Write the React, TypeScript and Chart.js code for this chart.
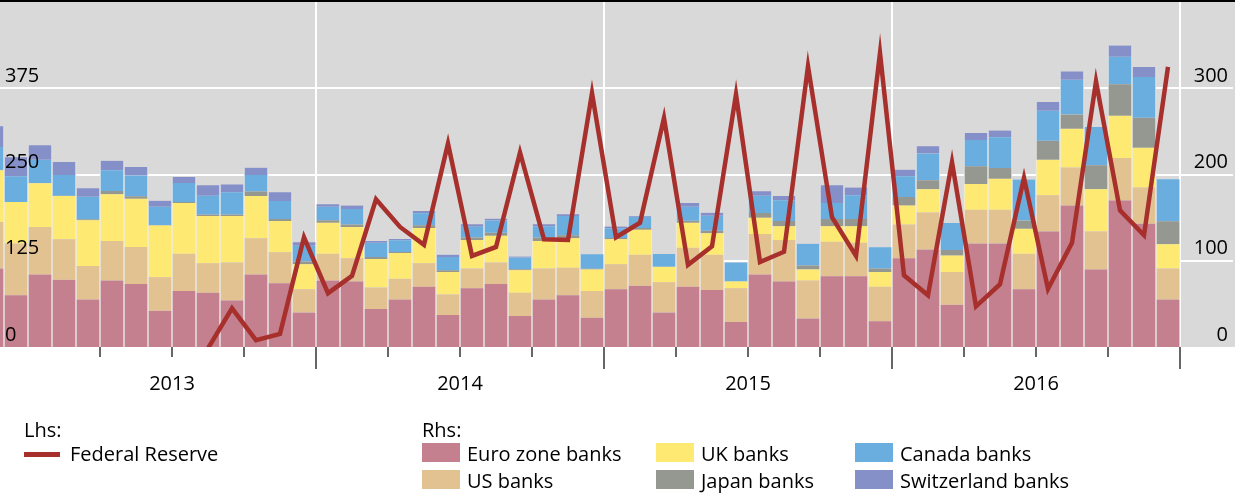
import React, { useEffect, useRef } from 'react';
import { Chart, registerables } from 'chart.js';

Chart.register(...registerables);

// ---------- DATA ----------
const months = [
  '2012-11', '2012-12',
  '2013-01', '2013-02', '2013-03', '2013-04', '2013-05', '2013-06', '2013-07', '2013-08', '2013-09', '2013-10', '2013-11', '2013-12',
  '2014-01', '2014-02', '2014-03', '2014-04', '2014-05', '2014-06', '2014-07', '2014-08', '2014-09', '2014-10', '2014-11', '2014-12',
  '2015-01', '2015-02', '2015-03', '2015-04', '2015-05', '2015-06', '2015-07', '2015-08', '2015-09', '2015-10', '2015-11', '2015-12',
  '2016-01', '2016-02', '2016-03', '2016-04', '2016-05', '2016-06', '2016-07', '2016-08', '2016-09', '2016-10', '2016-11', '2016-12',
];

const yearLabels = ['2013', '2014', '2015', '2016'];

// Lhs: Federal Reserve (line)
const federalReserve = [
  null, null,
  null, null, null, null, null, null, null, -2, 56, 10, 19, 159,
  78, 103, 214, 174, 148, 295, 132, 145, 282, 156, 155, 368,
  159, 180, 332, 119, 146, 366, 123, 138, 407, 188, 132, 426,
  104, 75, 268, 59, 91, 245, 84, 151, 385, 198, 162, 406,
];

// Rhs: stacked bars
const euroZoneBanks = [
  91, 60,
  84, 78, 55, 77, 73, 42, 65, 63, 54, 84, 74, 40,
  77, 76, 44, 55, 70, 37, 68, 73, 36, 55, 60, 34,
  67, 71, 40, 70, 66, 29, 84, 76, 33, 82, 82, 30,
  103, 113, 49, 120, 120, 67, 134, 164, 90, 170, 143, 55,
];
const usBanks = [
  54, 60,
  55, 47, 39, 46, 43, 39, 43, 34, 44, 42, 36, 27,
  31, 27, 25, 24, 27, 24, 23, 25, 27, 36, 32, 31,
  29, 36, 35, 45, 41, 39, 47, 48, 44, 40, 39, 40,
  39, 43, 38, 39, 39, 41, 42, 44, 44, 49, 42, 36,
];
const ukBanks = [
  60, 48,
  51, 50, 53, 54, 56, 60, 59, 55, 54, 49, 36, 29,
  36, 36, 33, 30, 41, 26, 33, 31, 26, 32, 34, 25,
  29, 29, 18, 29, 25, 8, 19, 16, 13, 18, 19, 17,
  22, 27, 19, 30, 36, 29, 41, 45, 49, 49, 46, 28,
];
const japanBanks = [
  0, 0,
  0, 0.5, 1.2, 3.9, 2.7, 0.5, 1.2, 1.5, 1.5, 5.4, 2.3, 3.5,
  3.1, 3.1, 2.3, 1.2, 3.1, 1.9, 3.1, 3.5, 1.2, 3.9, 3.5, 0.8,
  1.5, 1.9, 0, 2.3, 2.7, 0, 5.4, 6.2, 4.6, 8.5, 8.5, 3.9,
  10, 10.4, 6.6, 20.5, 12.4, 9.7, 22, 16.6, 27.8, 36.7, 34.8, 26.7,
];
const canadaBanks = [
  27, 30,
  27, 24, 26, 24, 24, 21, 22, 22, 26, 19, 21, 18,
  15.5, 18, 16.6, 13.5, 13.9, 15.5, 12.4, 14.3, 13.5, 13.1, 22.4, 16.6,
  11.2, 12.7, 14.7, 16.2, 17.4, 22, 20.1, 23.9, 25.1, 18.5, 27.4, 24.7,
  23.9, 30.9, 31.3, 30.5, 35.9, 47.5, 34.8, 40.2, 44.4, 31.7, 47.1, 48.7,
];
const switzerlandBanks = [
  24, 22,
  17, 15, 10, 11, 10, 7, 7, 12, 9, 8.5, 10, 4,
  3, 4, 2, 1.5, 2.7, 2.7, 2.7, 2, 1.2, 2.3, 2, 0,
  2, 1, 0, 4.6, 3.5, 0, 5, 5, 0, 20.5, 8.9, 0,
  7.7, 8.5, 0, 8.1, 7.7, 0, 10.4, 9.7, 0, 13.1, 11.6, 0,
];

const leftTicks = [0, 125, 250, 375];
const rightTicks = [0, 100, 200, 300];
const leftMax = 500;
const rightMax = 400;

// ---------- STYLE ----------
const FONT = "'Open Sans', 'DejaVu Sans', sans-serif";
const fedColor = '#a8302c';
const barSeries = [
  { label: 'Euro zone banks', data: euroZoneBanks, color: '#c4808f' },
  { label: 'US banks', data: usBanks, color: '#e2c291' },
  { label: 'UK banks', data: ukBanks, color: '#feea72' },
  { label: 'Japan banks', data: japanBanks, color: '#949890' },
  { label: 'Canada banks', data: canadaBanks, color: '#6aaee0' },
  { label: 'Switzerland banks', data: switzerlandBanks, color: '#8690c8' },
];

// month position: 0 = January 2013
const monthPos = months.map((m) => {
  const [y, mo] = m.split('-').map(Number);
  return (y - 2013) * 12 + (mo - 1);
});
const yearStart = (label: string) => (Number(label) - 2013) * 12 - 0.5;
const yearBounds = yearLabels.map((y) => yearStart(y) + 12);
const quarterBounds: number[] = [];
yearLabels.forEach((y) => {
  [3, 6, 9].forEach((q) => quarterBounds.push(yearStart(y) + q));
});
const midYear = yearLabels.map((y) => yearStart(y) + 6);
const allXTicks = [...quarterBounds, ...yearBounds].sort((a, b) => a - b);

const W = 1235;
const H = 494;

const noPadFit = (s: any) => {
  s.width = 0;
  s.paddingTop = 0;
  s.paddingBottom = 0;
};

export default function App() {
  const canvasRef = useRef<HTMLCanvasElement | null>(null);

  useEffect(() => {
    const canvas = canvasRef.current;
    if (!canvas) return;

    const bgPlugin = {
      id: 'bgPlugin',
      beforeDraw(chart: any) {
        const { ctx, chartArea } = chart;
        ctx.save();
        ctx.fillStyle = '#d9d9d9';
        ctx.fillRect(0, chartArea.top, chart.width, chartArea.bottom - chartArea.top);
        ctx.fillStyle = '#000';
        ctx.fillRect(0, 0, chart.width, chartArea.top);
        ctx.restore();
      },
      afterDraw(chart: any) {
        const { ctx, chartArea } = chart;
        const xs = chart.scales.x;
        ctx.save();
        ctx.strokeStyle = '#333';
        ctx.lineWidth = 1.5;
        quarterBounds.forEach((v) => {
          const px = xs.getPixelForValue(v);
          ctx.beginPath();
          ctx.moveTo(px, chartArea.bottom);
          ctx.lineTo(px, chartArea.bottom + 10);
          ctx.stroke();
        });
        ctx.restore();
      },
    };

    const labelTicks = (values: number[], extra: any) => ({
      mirror: true,
      autoSkip: false,
      z: 1,
      color: '#000',
      font: { family: FONT, size: 20 },
      callback: (v: any) => (values.includes(Number(v)) ? String(v) : ''),
      ...extra,
    });

    const chart = new Chart(canvas, {
      type: 'bar',
      data: {
        datasets: [
          {
            type: 'line',
            label: 'Federal Reserve',
            data: federalReserve.map((v, i) => ({ x: monthPos[i], y: v })) as any,
            yAxisID: 'y',
            xAxisID: 'x',
            borderColor: fedColor,
            backgroundColor: fedColor,
            borderWidth: 4.5,
            pointRadius: 0,
            tension: 0,
            spanGaps: false,
            borderJoinStyle: 'miter',
            order: 0,
          } as any,
          ...barSeries.map((s) => ({
            type: 'bar',
            label: s.label,
            data: s.data.map((v, i) => ({ x: monthPos[i], y: v })),
            yAxisID: 'y1',
            xAxisID: 'x',
            backgroundColor: s.color,
            borderColor: '#ececec',
            borderWidth: { left: 1, right: 1, top: 0, bottom: 0 },
            borderSkipped: false,
            barThickness: 24,
            stack: 'banks',
            order: 1,
          } as any)),
        ],
      },
      options: {
        animation: false,
        responsive: false,
        devicePixelRatio: 1,
        events: [],
        layout: { padding: { top: 2, left: 0, right: 2, bottom: 87 } },
        plugins: { legend: { display: false }, tooltip: { enabled: false } },
        scales: {
          x: {
            type: 'linear',
            min: -40 / 24,
            max: (1233 - 40) / 24,
            bounds: 'data',
            stacked: true,
            offset: false,
            afterBuildTicks: (s: any) => {
              s.ticks = allXTicks.map((v) => ({ value: v }));
            },
            afterFit: (s: any) => {
              s.height = 60;
              s.paddingLeft = 0;
              s.paddingRight = 0;
            },
            grid: {
              offset: false,
              drawOnChartArea: true,
              drawTicks: true,
              tickLength: 22,
              lineWidth: 2,
              tickWidth: 1.5,
              color: (c: any) => (c.tick && yearBounds.includes(c.tick.value) ? '#ffffff' : 'rgba(0,0,0,0)'),
              tickColor: (c: any) => (c.tick && yearBounds.includes(c.tick.value) ? '#333333' : 'rgba(0,0,0,0)'),
            },
            border: { display: false },
            ticks: {
              autoSkip: false,
              maxRotation: 0,
              minRotation: 0,
              padding: 3,
              color: '#000',
              font: { family: FONT, size: 20 },
              callback: (v: any) => {
                const k = midYear.indexOf(Number(v));
                return k >= 0 ? yearLabels[k] : '';
              },
            },
          },
          // left scale for the line + white horizontal gridlines (behind bars)
          y: {
            type: 'linear',
            position: 'left',
            min: 0,
            max: leftMax,
            bounds: 'data',
            afterBuildTicks: (s: any) => {
              s.ticks = [...leftTicks, leftMax].map((v) => ({ value: v }));
            },
            afterFit: noPadFit,
            grid: {
              drawTicks: false,
              lineWidth: 2,
              color: (c: any) => (c.tick && c.tick.value > 0 && c.tick.value < leftMax ? '#ffffff' : 'rgba(0,0,0,0)'),
            },
            border: { display: false },
            ticks: { display: false },
          },
          // left tick labels, drawn on top of the bars
          yL: {
            type: 'linear',
            position: 'left',
            min: 0,
            max: leftMax,
            bounds: 'data',
            afterBuildTicks: (s: any) => {
              s.ticks = [...leftTicks, leftMax].map((v) => ({ value: v }));
            },
            afterFit: noPadFit,
            grid: { display: false, drawTicks: false },
            border: { display: false },
            ticks: labelTicks(leftTicks, { padding: 5, labelOffset: -12 }),
          },
          y1: {
            type: 'linear',
            position: 'right',
            min: 0,
            max: rightMax,
            bounds: 'data',
            stacked: true,
            afterBuildTicks: (s: any) => {
              s.ticks = [...rightTicks, rightMax].map((v) => ({ value: v }));
            },
            afterFit: noPadFit,
            grid: { display: false, drawTicks: false },
            border: { display: false },
            ticks: labelTicks(rightTicks, { padding: -5, labelOffset: -12 }),
          },
        },
      } as any,
      plugins: [bgPlugin],
    });

    return () => {
      chart.destroy();
    };
  }, []);

  const textStyle = (left: number, top: number): React.CSSProperties => ({
    position: 'absolute',
    left,
    top,
    fontFamily: FONT,
    fontSize: 20,
    lineHeight: '20px',
    color: '#000',
    whiteSpace: 'nowrap',
  });

  const colLefts = [422, 656, 855];
  const rowTops = [443, 470];

  return (
    <div style={{ position: 'absolute', left: 0, top: 0, width: W, height: H, background: '#fff', overflow: 'hidden' }}>
      <canvas ref={canvasRef} width={W} height={H} style={{ position: 'absolute', left: 0, top: 0, width: W, height: H }} />
      <div style={textStyle(24, 420)}>Lhs:</div>
      <div style={{ position: 'absolute', left: 24, top: 452, width: 36, height: 5, background: fedColor }} />
      <div style={textStyle(70, 444)}>Federal Reserve</div>
      <div style={textStyle(422, 420)}>Rhs:</div>
      {barSeries.map((s, i) => {
        const col = Math.floor(i / 2);
        const row = i % 2;
        return (
          <React.Fragment key={s.label}>
            <div
              style={{
                position: 'absolute',
                left: colLefts[col],
                top: rowTops[row],
                width: 38,
                height: 19,
                background: s.color,
              }}
            />
            <div style={textStyle(colLefts[col] + 45, rowTops[row] + 1)}>{s.label}</div>
          </React.Fragment>
        );
      })}
    </div>
  );
}
